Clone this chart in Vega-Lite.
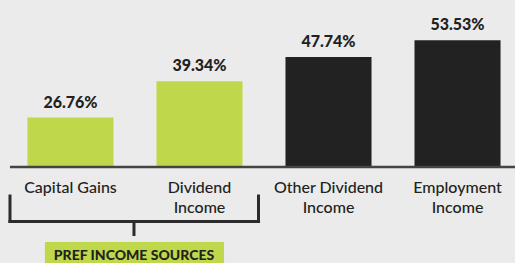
{
  "$schema": "https://vega.github.io/schema/vega-lite/v6.json",
  "width": 502,
  "height": 263,
  "autosize": {"type": "none"},
  "padding": {"left": 13, "right": 0, "top": 0, "bottom": 0},
  "background": "#ebebeb",
  "config": {"view": {"stroke": null}},
  "data": {
    "values": [
      {"category": "Capital Gains", "label": "Capital Gains", "value": 26.76, "valueLabel": "26.76%", "group": "pref"},
      {"category": "Dividend Income", "label": "Dividend\nIncome", "value": 39.34, "valueLabel": "39.34%", "group": "pref"},
      {"category": "Other Dividend Income", "label": "Other Dividend\nIncome", "value": 47.74, "valueLabel": "47.74%", "group": "other"},
      {"category": "Employment Income", "label": "Employment\nIncome", "value": 53.53, "valueLabel": "53.53%", "group": "other"}
    ]
  },
  "layer": [
    {
      "mark": {"type": "bar"},
      "encoding": {
        "x": {"field": "category", "type": "nominal", "axis": null,
              "scale": {"domain": ["Capital Gains", "Dividend Income", "Other Dividend Income", "Employment Income"], "paddingInner": 0.333, "paddingOuter": 0.112}},
        "y": {"field": "value", "type": "quantitative", "axis": null,
              "scale": {"domain": [-23.55, 67.45], "nice": false, "zero": false}},
        "y2": {"datum": 9.66},
        "color": {"field": "group", "type": "nominal", "legend": null,
                  "scale": {"domain": ["pref", "other"], "range": ["#bfd84b", "#222222"]}}
      }
    },
    {
      "mark": {"type": "text", "baseline": "alphabetic", "dy": -10, "font": "Lato", "fontWeight": 900, "fontSize": 16, "color": "#222222"},
      "encoding": {
        "x": {"field": "category", "type": "nominal"},
        "y": {"field": "value", "type": "quantitative"},
        "text": {"field": "valueLabel"}
      }
    },
    {
      "mark": {"type": "text", "baseline": "alphabetic", "lineBreak": "\n", "lineHeight": 20, "font": "Lato", "fontWeight": 500, "fontSize": 16, "color": "#222222"},
      "encoding": {
        "x": {"field": "category", "type": "nominal"},
        "y": {"datum": 0.56},
        "text": {"field": "label"}
      }
    },
    {
      "data": {"values": [{}]},
      "mark": {"type": "rule", "color": "#444444", "strokeWidth": 2.5},
      "encoding": {
        "x": {"datum": "Capital Gains", "bandPosition": -0.203},
        "x2": {"datum": "Employment Income", "bandPosition": 1.6},
        "y": {"datum": 9.66}
      }
    },
    {
      "data": {"values": [{}]},
      "mark": {"type": "rule", "color": "#2b2b2b", "strokeWidth": 3, "strokeCap": "square"},
      "encoding": {
        "x": {"datum": "Capital Gains", "bandPosition": -0.203},
        "y": {"datum": -0.37},
        "y2": {"datum": -9.19}
      }
    },
    {
      "data": {"values": [{}]},
      "mark": {"type": "rule", "color": "#2b2b2b", "strokeWidth": 3, "strokeCap": "square"},
      "encoding": {
        "x": {"datum": "Dividend Income", "bandPosition": 1.186},
        "y": {"datum": -0.37},
        "y2": {"datum": -9.19}
      }
    },
    {
      "data": {"values": [{}]},
      "mark": {"type": "rule", "color": "#2b2b2b", "strokeWidth": 3, "strokeCap": "square"},
      "encoding": {
        "x": {"datum": "Capital Gains", "bandPosition": -0.203},
        "x2": {"datum": "Dividend Income", "bandPosition": 1.186},
        "y": {"datum": -9.19}
      }
    },
    {
      "data": {"values": [{}]},
      "mark": {"type": "rule", "color": "#2b2b2b", "strokeWidth": 3},
      "encoding": {
        "x": {"datum": "Capital Gains", "bandPosition": 1.238},
        "y": {"datum": -9.19},
        "y2": {"datum": -14.21}
      }
    },
    {
      "data": {"values": [{"note": "PREF INCOME SOURCES"}]},
      "mark": {"type": "rect", "color": "#bfd84b"},
      "encoding": {
        "x": {"datum": "Capital Gains", "bandPosition": 0.203},
        "x2": {"datum": "Dividend Income", "bandPosition": 0.785},
        "y": {"datum": -16.29},
        "y2": {"datum": -23.55}
      }
    },
    {
      "data": {"values": [{"note": "PREF INCOME SOURCES"}]},
      "mark": {"type": "text", "baseline": "alphabetic", "align": "center", "font": "Lato", "fontWeight": 900, "fontSize": 14, "color": "#222222"},
      "encoding": {
        "x": {"datum": "Capital Gains", "bandPosition": 1.238},
        "y": {"datum": -22.52},
        "text": {"field": "note"}
      }
    }
  ]
}
